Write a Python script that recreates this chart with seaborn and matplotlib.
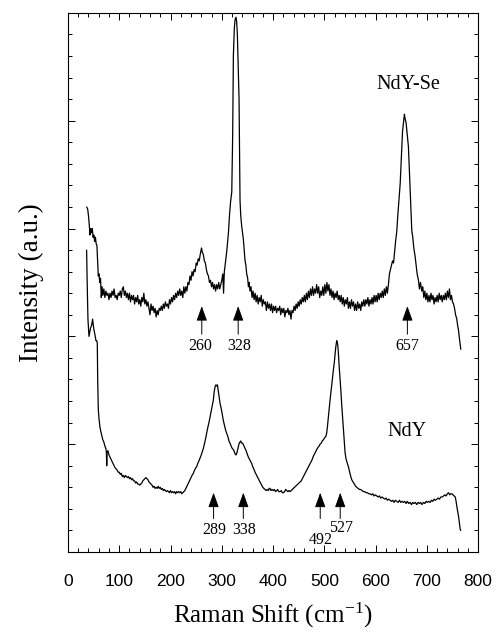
import numpy as np
import pandas as pd
import matplotlib
matplotlib.use("Agg")
import matplotlib.pyplot as plt
from matplotlib.ticker import MultipleLocator
import seaborn as sns

# NdY-Se spectrum (upper trace)
se_x = [36.5, 38.5, 40.0, 41.5, 43.0, 44.5, 46.0, 47.5, 49.0, 50.5, 52.0, 53.5, 55.0, 56.5, 58.0, 59.2,
        60.5, 62.0, 63.5, 65.0, 66.5, 68.0, 70.0, 72.0, 74.0, 76.0, 78.0, 80.0, 82.0, 84.0, 86.0, 88.0,
        90.0, 92.0, 94.0, 96.0, 98.0, 100.0, 102.0, 104.0, 106.0, 108.0, 110.0, 112.0, 114.0, 116.0,
        118.0, 120.0, 122.0, 124.0, 126.0, 128.0, 130.0, 132.0, 134.0, 136.0, 138.0, 140.0, 142.0,
        144.0, 146.0, 148.0, 150.0, 152.0, 154.0, 156.0, 158.0, 160.0, 162.0, 164.0, 166.0, 168.0,
        170.0, 172.0, 174.0, 176.0, 178.0, 180.0, 182.0, 184.0, 186.0, 188.0, 190.0, 192.0, 194.0,
        196.0, 198.0, 200.0, 202.0, 204.0, 206.0, 208.0, 210.0, 212.0, 214.0, 216.0, 218.0, 220.0,
        222.0, 224.0, 226.0, 228.0, 230.0, 232.0, 234.0, 236.0, 238.0, 240.0, 242.0, 244.0, 246.0,
        248.0, 250.0, 252.0, 254.0, 256.0, 258.0, 260.5, 262.0, 264.0, 266.0, 268.0, 270.0, 272.0,
        274.0, 276.0, 278.0, 280.0, 282.0, 284.0, 286.0, 288.0, 290.0, 292.0, 294.0, 296.0, 298.0,
        300.0, 302.0, 303.5, 305.0, 307.0, 309.5, 311.0, 313.0, 315.0, 317.0, 319.5, 321.3, 322.6,
        324.5, 326.0, 327.8, 329.0, 330.4, 332.0, 333.7, 335.0, 335.6, 337.0, 338.9, 340.5, 342.1,
        344.0, 345.4, 347.0, 348.6, 350.5, 352.0, 353.5, 355.0, 357.0, 359.0, 361.0, 363.0, 365.0,
        367.0, 369.0, 371.0, 373.0, 375.0, 377.0, 379.0, 381.0, 383.0, 385.0, 387.0, 389.0, 391.0,
        393.0, 395.0, 397.0, 399.0, 401.0, 403.0, 405.0, 407.0, 409.0, 411.0, 413.0, 415.0, 417.0,
        419.0, 421.0, 423.0, 425.0, 427.0, 429.0, 431.0, 433.0, 435.0, 437.0, 439.0, 441.0, 443.0,
        445.0, 447.0, 449.0, 451.0, 453.0, 455.0, 457.0, 459.0, 461.0, 463.0, 465.0, 467.0, 469.0,
        471.0, 473.0, 475.0, 477.0, 479.0, 481.0, 483.0, 485.0, 487.0, 489.0, 491.0, 493.0, 495.0,
        497.0, 499.0, 501.0, 503.0, 505.0, 507.0, 509.0, 511.0, 513.0, 515.0, 517.0, 519.0, 521.0,
        523.0, 525.0, 527.0, 529.0, 531.0, 533.0, 535.0, 537.0, 539.0, 541.0, 543.0, 545.0, 547.0,
        549.0, 551.0, 553.0, 555.0, 557.0, 559.0, 561.0, 563.0, 565.0, 567.0, 569.0, 571.0, 573.0,
        575.0, 577.0, 579.0, 581.0, 583.0, 585.0, 587.0, 589.0, 591.0, 593.0, 595.0, 597.0, 599.0,
        601.0, 603.0, 605.0, 607.0, 609.0, 611.0, 613.0, 615.0, 617.0, 619.0, 621.0, 623.0, 625.0,
        627.0, 629.0, 631.0, 633.0, 635.0, 637.0, 639.0, 641.4, 643.0, 644.6, 646.5, 648.0, 649.5,
        651.1, 652.5, 654.3, 656.2, 657.5, 659.5, 661.5, 664.0, 665.5, 667.3, 669.0, 670.6, 672.5,
        674.5, 677.1, 679.0, 681.0, 683.6, 685.5, 687.5, 690.0, 692.0, 694.0, 696.0, 698.0, 700.0,
        702.0, 704.0, 706.0, 708.0, 710.0, 712.0, 714.0, 716.0, 718.0, 720.0, 722.0, 724.0, 726.0,
        728.0, 730.0, 732.0, 734.0, 736.0, 738.0, 740.0, 742.0, 744.0, 746.0, 748.0, 750.0, 752.0,
        754.0, 756.0, 758.4, 760.0, 761.6, 764.0, 766.2]
se_y = [16.0, 15.9, 15.6, 15.2, 14.7, 15.0, 14.8, 15.0, 14.6, 14.7, 14.4, 14.6, 14.3, 14.2, 13.4, 12.8,
        12.9, 12.5, 12.7, 11.8, 12.3, 11.9, 12.2, 11.8, 12.1, 11.9, 12.0, 11.7, 12.0, 11.8, 12.1, 11.9,
        12.2, 11.8, 11.9, 11.7, 12.0, 11.9, 12.1, 11.8, 12.2, 12.3, 11.9, 12.1, 11.8, 12.0,
        11.7, 12.0, 11.6, 11.9, 11.7, 11.9, 11.5, 11.8, 11.6, 11.9, 11.5, 11.7, 11.4,
        11.8, 11.6, 12.0, 11.5, 11.7, 11.4, 11.6, 11.3, 11.0, 11.5, 11.2, 11.4, 11.1,
        11.3, 10.9, 11.2, 11.0, 11.3, 11.2, 11.4, 11.2, 11.5, 11.3, 11.6, 11.4, 11.5,
        11.3, 11.7, 11.5, 11.8, 11.6, 11.9, 11.7, 12.0, 11.8, 12.1, 11.9, 12.2, 11.9,
        12.1, 11.8, 12.3, 12.0, 12.3, 12.1, 12.5, 12.4, 12.8, 12.6, 13.0, 12.8, 13.1,
        13.0, 13.4, 13.3, 13.6, 13.5, 13.8, 14.1, 13.9, 13.8, 13.5, 13.4, 13.1, 12.9,
        12.8, 12.5, 12.6, 12.3, 12.5, 12.2, 12.4, 12.1, 12.4, 12.2, 12.5, 12.2, 12.4,
        12.6, 12.9, 12.0, 13.0, 13.4, 13.9, 14.3, 14.8, 15.6, 16.2, 16.7, 19.4, 23.0,
        24.3, 24.7, 24.8, 24.6, 24.0, 22.5, 21.0, 17.6, 16.3, 15.6, 15.1, 14.8, 14.5,
        13.9, 13.5, 13.3, 12.9, 12.7, 12.3, 12.5, 12.1, 12.3, 11.8, 12.1, 11.7, 12.0,
        11.6, 11.9, 11.5, 11.8, 11.6, 11.9, 11.4, 11.7, 11.5, 11.6, 11.2, 11.6, 11.3,
        11.5, 11.2, 11.5, 11.1, 11.4, 11.2, 11.4, 11.1, 11.3, 11.2, 11.4, 11.0, 11.3,
        11.1, 11.3, 10.9, 11.2, 11.1, 11.3, 11.0, 11.2, 10.8, 11.2, 11.1, 11.4, 11.2,
        11.5, 11.3, 11.6, 11.4, 11.7, 11.5, 11.8, 11.6, 11.9, 11.6, 12.0, 11.7, 12.1,
        11.8, 12.2, 11.9, 12.3, 11.9, 12.2, 12.0, 12.4, 12.0, 12.3, 11.8, 12.1, 11.9,
        12.3, 11.9, 12.4, 12.0, 12.5, 12.1, 12.4, 11.9, 12.2, 11.8, 12.1, 11.7, 12.0,
        11.8, 12.1, 11.7, 11.9, 11.6, 11.9, 11.5, 11.8, 11.4, 11.7, 11.5, 11.8, 11.3,
        11.6, 11.3, 11.7, 11.4, 11.6, 11.2, 11.5, 11.2, 11.6, 11.3, 11.5, 11.2, 11.6,
        11.4, 11.7, 11.4, 11.7, 11.5, 11.8, 11.4, 11.7, 11.5, 11.8, 11.5, 11.9, 11.6,
        11.9, 11.6, 12.0, 11.7, 12.0, 11.8, 12.1, 11.8, 12.2, 11.9, 12.3, 12.0, 12.4,
        12.9, 13.1, 13.3, 13.5, 13.4, 13.9, 14.4, 14.9, 15.5, 16.0, 16.6, 17.1, 17.9,
        18.8, 19.5, 19.9, 20.3, 20.1, 19.9, 19.4, 18.8, 17.9, 16.9, 15.9, 14.9, 14.6,
        14.1, 13.7, 13.3, 12.9, 12.6, 12.2, 12.5, 12.1, 12.3, 11.8, 12.1, 11.7, 12.0,
        11.6, 11.9, 11.6, 12.0, 11.7, 11.9, 11.5, 11.8, 11.6, 11.9, 11.6, 12.0, 11.7,
        11.9, 11.6, 11.9, 11.7, 12.0, 11.7, 12.1, 11.8, 12.2, 11.7, 11.9, 11.6, 11.5,
        11.3, 11.0, 10.8, 10.5, 10.3, 9.8, 9.4]

# NdY spectrum (lower trace)
ndy_x = [36.4, 37.5, 39.0, 41.0, 42.5, 44.2, 46.0, 48.1, 49.5, 50.7, 52.5, 54.6, 56.0, 57.2, 58.0,
         59.2, 60.5, 62.4, 64.0, 66.0, 68.0, 70.0, 72.2, 74.0, 75.0, 75.6, 76.2, 78.0, 80.0, 82.0,
         84.0, 86.0, 88.0, 90.0, 92.0, 94.0, 96.0, 98.0, 100.0, 102.0, 104.0, 106.0, 108.0, 110.0,
         112.0, 114.0, 116.0, 118.0, 120.0, 122.0, 124.0, 126.0, 128.0, 130.0, 132.0, 134.0, 136.0,
         138.0, 140.0, 142.0, 144.0, 146.0, 148.0, 150.0, 152.0, 154.0, 156.0, 158.0, 160.0, 162.0,
         164.0, 166.0, 168.0, 170.0, 172.0, 174.0, 176.0, 178.0, 180.0, 182.0, 184.0, 186.0, 188.0,
         190.0, 192.0, 194.0, 196.0, 198.0, 200.0, 202.0, 204.0, 206.0, 208.0, 210.0, 212.0, 214.0,
         216.0, 218.0, 220.0, 222.0, 224.0, 226.0, 228.0, 230.0, 232.0, 234.0, 236.0, 238.0, 240.0,
         242.0, 244.5, 247.0, 249.0, 251.0, 253.0, 255.0, 257.5, 260.0, 262.0, 264.0, 266.0, 268.0,
         270.5, 272.5, 275.0, 277.0, 279.0, 281.0, 283.6, 285.0, 286.8, 288.5, 290.0, 291.5, 293.3,
         295.0, 296.6, 298.5, 300.5, 303.0, 305.5, 307.5, 309.6, 312.0, 314.0, 316.0, 318.5, 320.5,
         322.6, 324.5, 326.0, 327.8, 329.5, 331.0, 332.3, 334.0, 335.6, 337.0, 338.5, 340.7, 342.5,
         345.4, 347.5, 349.5, 351.9, 354.0, 356.0, 358.4, 360.5, 362.5, 364.9, 367.0, 369.0, 371.4,
         373.5, 375.5, 377.9, 380.0, 382.0, 384.4, 386.5, 388.5, 390.9, 392.5, 394.1, 396.0, 398.0,
         400.6, 402.5, 405.0, 407.1, 409.0, 411.0, 413.7, 416.0, 418.0, 420.2, 422.5, 424.5, 426.7,
         429.0, 431.0, 433.2, 435.5, 437.5, 439.7, 442.0, 444.0, 446.2, 448.5, 450.5, 452.7, 455.0,
         457.0, 459.2, 461.5, 463.5, 465.7, 468.0, 470.0, 472.2, 474.5, 476.5, 478.7, 481.0, 483.0,
         485.2, 487.5, 489.5, 491.7, 494.0, 496.0, 498.2, 500.5, 502.8, 504.5, 506.0, 508.0, 510.0,
         511.2, 513.0, 515.0, 517.7, 519.5, 521.0, 522.3, 524.2, 525.5, 526.2, 527.5, 529.0, 530.8,
         532.5, 534.0, 536.0, 538.0, 540.5, 542.5, 544.5, 547.0, 549.0, 551.0, 553.5, 556.0, 558.5,
         561.0, 563.3, 566.0, 568.5, 571.0, 573.5, 576.3, 579.0, 581.5, 584.0, 586.5, 589.3, 592.0,
         594.5, 597.0, 599.5, 602.3, 605.0, 607.5, 610.0, 612.5, 615.3, 618.0, 620.5, 623.0, 625.5,
         628.3, 631.0, 633.5, 636.0, 638.5, 641.4, 644.0, 646.5, 649.0, 651.5, 654.4, 657.0, 659.5,
         662.0, 664.5, 667.4, 670.0, 672.5, 675.0, 677.5, 680.4, 683.0, 685.5, 688.0, 690.5, 693.4,
         696.0, 698.5, 701.0, 703.5, 706.5, 709.0, 711.5, 714.0, 716.5, 719.5, 722.0, 724.5, 727.0,
         730.0, 732.5, 735.0, 737.5, 740.0, 742.3, 744.5, 746.5, 748.8, 751.0, 753.0, 755.3, 757.0,
         758.5, 760.0, 761.8, 763.5, 765.0, 766.2]
ndy_y = [14.0, 12.5, 10.8, 10.0, 10.2, 10.4, 10.5, 10.8, 10.5, 10.3, 10.1, 9.8, 9.8, 9.7, 8.0,
         6.6, 6.2, 5.8, 5.6, 5.4, 5.2, 5.1, 4.9, 4.8, 4.6, 4.0, 4.6, 4.7, 4.5, 4.4,
         4.3, 4.2, 4.1, 4.0, 3.9, 3.85, 3.8, 3.7, 3.7, 3.6, 3.65, 3.5, 3.55, 3.45,
         3.55, 3.5, 3.45, 3.5, 3.4, 3.45, 3.35, 3.4, 3.3, 3.3, 3.2, 3.25, 3.15,
         3.15, 3.1, 3.15, 3.2, 3.3, 3.35, 3.4, 3.45, 3.4, 3.35, 3.25, 3.2, 3.15,
         3.1, 3.0, 3.05, 2.95, 3.0, 2.95, 3.05, 2.95, 3.0, 2.9, 2.95, 2.85, 2.9,
         2.85, 2.8, 2.85, 2.8, 2.75, 2.85, 2.75, 2.8, 2.75, 2.8, 2.7, 2.8, 2.75,
         2.8, 2.75, 2.8, 2.7, 2.75, 2.8, 2.85, 2.95, 3.05, 3.15, 3.25, 3.35, 3.45,
         3.55, 3.65, 3.8, 3.9, 3.95, 4.1, 4.2, 4.35, 4.5, 4.65, 4.8, 5.0, 5.2,
         5.5, 5.75, 6.0, 6.25, 6.5, 6.75, 7.05, 7.4, 7.65, 7.75, 7.7, 7.75, 7.45,
         7.2, 6.9, 6.7, 6.45, 6.1, 5.85, 5.65, 5.5, 5.35, 5.15, 5.05, 4.9, 4.8,
         4.75, 4.65, 4.55, 4.5, 4.6, 4.75, 4.9, 5.05, 5.1, 5.15, 5.05, 5.05, 4.95,
         4.8, 4.7, 4.55, 4.4, 4.3, 4.2, 4.1, 3.95, 3.85, 3.7, 3.6, 3.5, 3.4,
         3.3, 3.2, 3.1, 3.0, 2.95, 2.9, 2.85, 2.9, 2.85, 2.95, 2.95, 2.85, 2.9,
         2.85, 2.9, 2.8, 2.85, 2.9, 2.8, 2.8, 2.85, 2.75, 2.75, 2.8, 2.9, 2.85,
         2.8, 2.85, 2.8, 2.85, 2.9, 2.95, 3.0, 3.05, 3.1, 3.15, 3.2, 3.25, 3.3,
         3.4, 3.5, 3.6, 3.7, 3.8, 3.9, 4.0, 4.1, 4.2, 4.3, 4.45, 4.55, 4.65,
         4.75, 4.85, 4.9, 5.0, 5.05, 5.15, 5.2, 5.3, 5.35, 5.5, 5.8, 6.3, 6.8,
         7.05, 7.45, 7.85, 8.45, 8.8, 9.2, 9.5, 9.8, 9.7, 9.6, 9.2, 8.6, 8.0,
         7.4, 6.8, 6.1, 5.4, 4.6, 4.3, 4.15, 3.95, 3.75, 3.55, 3.35, 3.25, 3.15,
         3.05, 3.0, 2.95, 2.9, 2.9, 2.85, 2.8, 2.8, 2.75, 2.75, 2.7, 2.7, 2.65,
         2.7, 2.6, 2.65, 2.6, 2.55, 2.6, 2.5, 2.55, 2.5, 2.45, 2.5, 2.4, 2.45,
         2.4, 2.35, 2.4, 2.3, 2.4, 2.35, 2.3, 2.4, 2.3, 2.35, 2.3, 2.35, 2.25,
         2.35, 2.25, 2.3, 2.2, 2.3, 2.25, 2.3, 2.2, 2.3, 2.25, 2.3, 2.2, 2.3,
         2.25, 2.35, 2.3, 2.35, 2.3, 2.4, 2.35, 2.45, 2.4, 2.45, 2.5, 2.45, 2.55,
         2.55, 2.6, 2.65, 2.6, 2.7, 2.75, 2.65, 2.7, 2.7, 2.65, 2.6, 2.55, 2.35,
         2.1, 1.9, 1.65, 1.35, 1.05, 1.0]

# peak markers: arrow x, label text, label x
se_arrow_x = [261, 332, 662]
se_labels = ["260", "328", "657"]
se_label_x = [258, 334, 661]
ndy_arrow_x = [284, 342, 492, 531]
ndy_labels = ["289", "338", "492", "527"]
ndy_label_x = [285, 344, 493, 532]
ndy_label_y = [1.0, 1.0, 0.55, 1.1]

sns.set_style("ticks")
plt.rcParams['font.family'] = ['Liberation Serif', 'DejaVu Serif']
plt.rcParams['mathtext.fontset'] = 'stix'
plt.rcParams['text.color'] = 'black'
plt.rcParams['axes.labelcolor'] = 'black'

fig = plt.figure(figsize=(4.96, 6.35), dpi=100)
ax = fig.add_axes([0.137, 0.1307, 0.827, 0.849])

se_df = pd.DataFrame({"shift": se_x, "intensity": se_y})
ndy_df = pd.DataFrame({"shift": ndy_x, "intensity": ndy_y})
sns.lineplot(data=se_df, x="shift", y="intensity", color="black", lw=0.9,
             estimator=None, sort=False, ax=ax)
sns.lineplot(data=ndy_df, x="shift", y="intensity", color="black", lw=0.9,
             estimator=None, sort=False, ax=ax)

arrow_kw = dict(arrowstyle="-|>,head_width=0.27,head_length=0.75", color="black", lw=0.7,
                shrinkA=0, shrinkB=0, mutation_scale=12)
for xa, lab, xl in zip(se_arrow_x, se_labels, se_label_x):
    ax.annotate("", xy=(xa, 11.4), xytext=(xa, 10.1), arrowprops=arrow_kw)
    ax.text(xl, 9.55, lab, ha="center", va="center", fontsize=11.5)
for xa, lab, xl, yl in zip(ndy_arrow_x, ndy_labels, ndy_label_x, ndy_label_y):
    ax.annotate("", xy=(xa, 2.75), xytext=(xa, 1.55), arrowprops=arrow_kw)
    ax.text(xl, yl, lab, ha="center", va="center", fontsize=11.5)

ax.text(664, 21.7, "NdY-Se", ha="center", va="center", fontsize=14.5)
ax.text(661, 5.6, "NdY", ha="center", va="center", fontsize=14.5)

ax.set_xlim(0, 800)
ax.set_ylim(0, 25)
ax.xaxis.set_major_locator(MultipleLocator(100))
ax.xaxis.set_minor_locator(MultipleLocator(20))
ax.yaxis.set_major_locator(MultipleLocator(5))
ax.yaxis.set_minor_locator(MultipleLocator(1))
ax.tick_params(which="both", direction="in", top=True, right=True, width=0.7, colors="black")
ax.tick_params(which="major", length=5)
ax.tick_params(which="minor", length=3)
ax.tick_params(axis="x", pad=16)
ax.set_yticklabels([])
for lbl in ax.get_xticklabels():
    lbl.set_fontfamily("Liberation Sans")
    lbl.set_fontsize(12.5)
for sp in ax.spines.values():
    sp.set_linewidth(0.8)
    sp.set_color("black")

ax.set_xlabel("Raman Shift (cm$^{\\mathregular{-1}}$)", fontsize=18, labelpad=8)
ax.set_ylabel("Intensity (a.u.)", fontsize=19.5, labelpad=14)

fig.savefig("out.png", dpi=100)
